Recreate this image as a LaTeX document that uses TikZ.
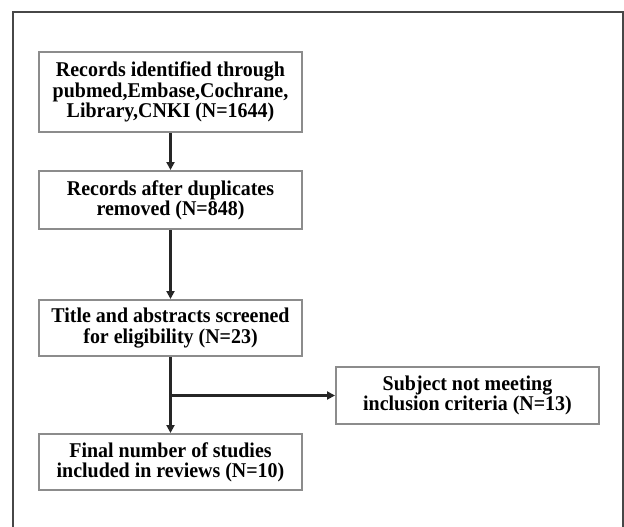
\documentclass[tikz,border=0pt]{standalone}
\usepackage{fontspec}
\setmainfont{Liberation Serif}
\newfontfamily\boxfont[FakeStretch=0.95]{Liberation Serif}
\usetikzlibrary{arrows.meta}
\tikzset{
  x=1pt,y=-1pt,
  flowbox/.style={draw=black!45,line width=2pt,fill=white,align=center,inner sep=0pt,
    minimum width=263pt,font=\boxfont\fontsize{21}{20.3}\selectfont\bfseries},
  flowarrow/.style={draw=black!85,line width=2.4pt,-{Triangle[length=8pt,width=8pt]}},
  framel/.style={draw=black!72,line width=2.2pt}
}
\begin{document}
\begin{tikzpicture}
\useasboundingbox (0,0) rectangle (624,527);
\fill[white] (0,0) rectangle (624,527);
\coordinate (fbl) at (13,527);
\coordinate (ftl) at (13,12);
\coordinate (ftr) at (623,12);
\coordinate (fbr) at (623,527);
\draw[framel] (fbl) -- (ftl) -- (ftr) -- (fbr);
\node[flowbox,minimum height=80pt] (b1) at (170.5,92) {Records identified through\\pubmed,Embase,Cochrane,\\Library,CNKI (N=1644)};
\node[flowbox,minimum height=58pt] (b2) at (170.5,200) {Records after duplicates\\removed (N=848)};
\node[flowbox,minimum height=56pt] (b3) at (170.5,328) {Title and abstracts screened\\for eligibility (N=23)};
\node[flowbox,minimum height=56pt] (b4) at (170.5,462) {Final number of studies\\included in reviews (N=10)};
\node[flowbox,minimum height=57pt] (s1) at (467.5,395.5) {Subject not meeting\\inclusion criteria (N=13)};
\coordinate (br) at (b3.south |- s1.west);
\draw[flowarrow] (b1) -- (b2);
\draw[flowarrow] (b2) -- (b3);
\draw[flowarrow] (b3) -- (b4);
\draw[flowarrow] (br) -- (s1);
\end{tikzpicture}
\end{document}
